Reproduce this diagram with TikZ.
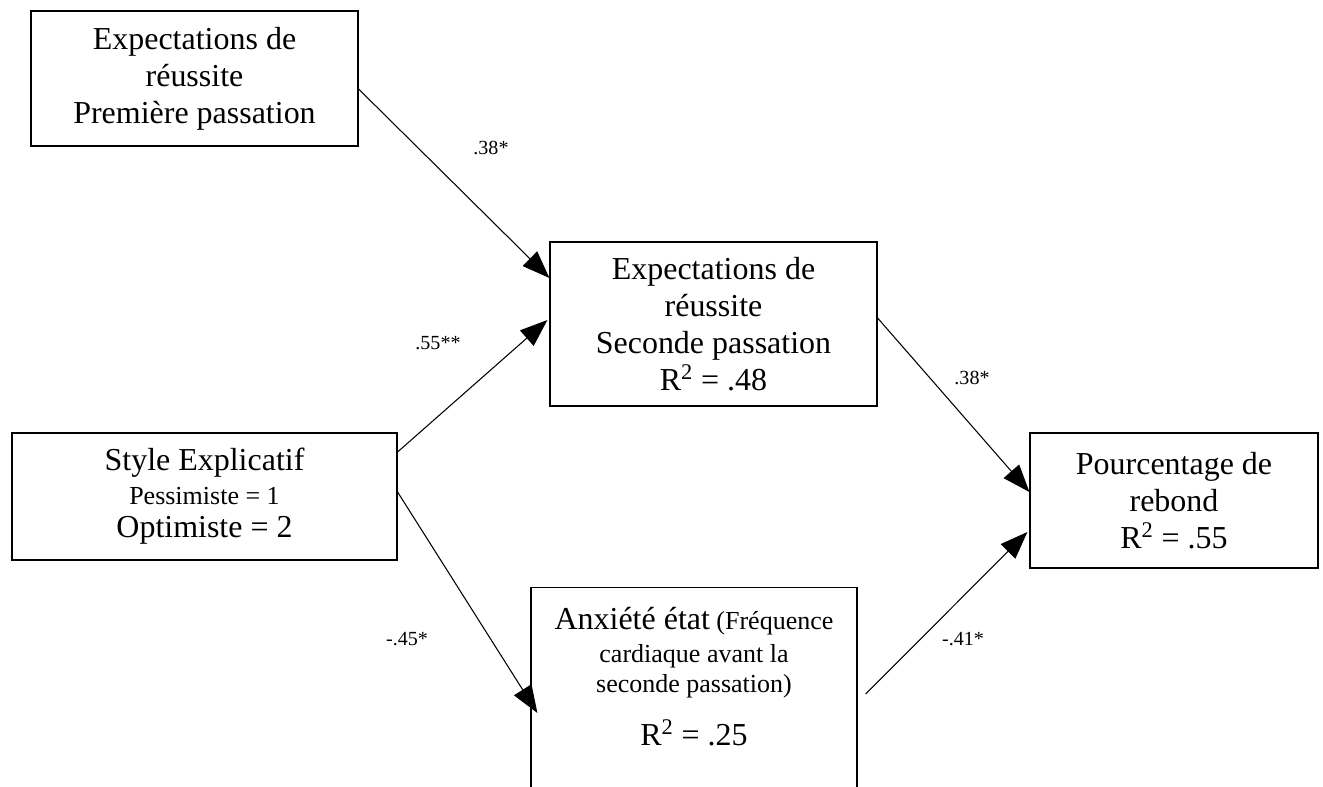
\documentclass[tikz,border=0pt]{standalone}
\usepackage{fontspec}
\setmainfont{Liberation Serif}
\usepackage{tikz}
\usetikzlibrary{positioning,calc,arrows.meta}

\newcommand{\grandtxt}{\fontsize{18.2pt}{21pt}\selectfont}
\newcommand{\petittxt}{\fontsize{14.8pt}{17pt}\selectfont}
\newcommand{\coeftxt}{\fontsize{11.4pt}{13pt}\selectfont}

\tikzset{
	boite/.style={draw, line width=0.7pt, align=center, font=\grandtxt, inner sep=0},
	fleche/.style={line width=0.6pt, -{Triangle[length=0.55cm,width=0.41cm]}},
	coef/.style={font=\coeftxt, inner sep=0}
}

\begin{document}
\begin{tikzpicture}[x=0.02cm, y=-0.02cm]
				\useasboundingbox (0,0) rectangle (1323,787);
				\clip (0,0) rectangle (1323,787);
				% les boites
				\node[boite, minimum width=6.54cm, minimum height=2.7cm] (exp1) at (194.5,78.5) {Expectations de\\réussite\\Première passation};
				\node[boite, minimum width=6.54cm, minimum height=3.28cm] (exp2) at (713.5,324) {Expectations de\\réussite\\Seconde passation\\R\textsuperscript{2} = .48};
				\node[boite, minimum width=7.7cm, minimum height=2.54cm] (style) at (204.5,496.5) {Style Explicatif\\[-2pt]{\petittxt Pessimiste = 1}\\[-2pt]Optimiste = 2};
				\node[boite, minimum width=5.76cm, minimum height=2.7cm] (pour) at (1174,500.5) {Pourcentage de\\rebond\\R\textsuperscript{2} = .55};
				% la boite du bas sort de la page
				\node[boite, font=\petittxt, anchor=north, minimum width=6.52cm, inner ysep=0.4cm] (anx) at (694,587) {{\grandtxt Anxiété état} (Fréquence\\[1.5pt]cardiaque avant la\\seconde passation)\\[11.2pt]{\grandtxt R\textsuperscript{2} = .25}\\[40pt]~};
				% les fleches
				\draw[fleche] ($(exp1.east)+(0,10.5)$) -- ($(exp2.west)+(0,-46)$);
				\draw[fleche] ($(style.east)+(0,-44.5)$) -- ($(exp2.west)+(-2,-4)$);
				\draw[fleche] ($(style.east)+(0,-4.5)$) -- ($(anx.north west)+(7,126)$);
				\draw[fleche] ($(exp2.east)+(0,-6)$) -- ($(pour.west)+(0,-8.5)$);
				\draw[fleche] ($(anx.north east)+(8,107)$) -- ($(pour.west)+(-2,31.5)$);
				% les coefficients
				\node[coef] (c1) at (491,148) {.38*};
				\node[coef] (c2) at (438,343) {.55**};
				\node[coef] (c3) at (407,639) {-.45*};
				\node[coef] (c4) at (972,378) {.38*};
				\node[coef] (c5) at (963,639) {-.41*};
\end{tikzpicture}
\end{document}
